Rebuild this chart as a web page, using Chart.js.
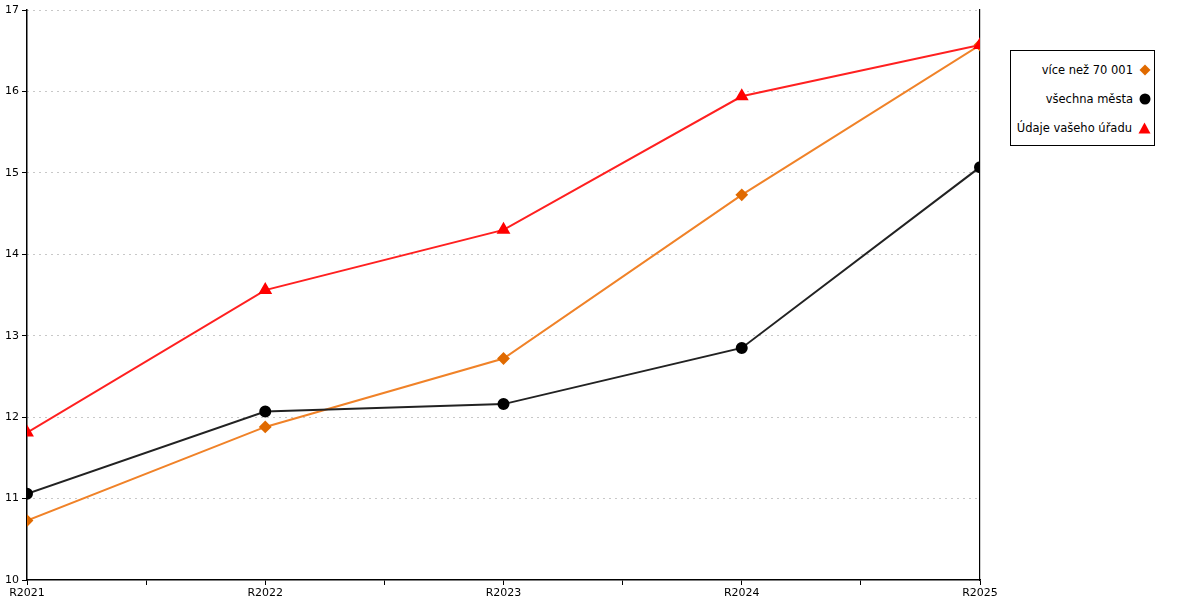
<!DOCTYPE html>
<html><head><meta charset="utf-8">
<script src="https://cdn.jsdelivr.net/npm/chart.js@4/dist/chart.umd.min.js"></script>
<style>
html,body{margin:0;padding:0;background:#fff;}
#wrap{position:relative;width:1200px;height:600px;}
#legend{position:absolute;left:1010px;top:50px;width:143px;height:94px;border:1px solid #000;background:#fff;font-family:"DejaVu Sans",sans-serif;font-size:11.5px;color:#000;}
.row{position:absolute;right:3px;display:flex;align-items:center;height:16px;}
.row span{margin-right:6px;}
</style></head>
<body><div id="wrap"><canvas id="c" width="1200" height="600"></canvas>
<div id="legend">
<div class="row" style="top:11px"><span>více než 70 001</span><svg width="12" height="12"><polygon points="6,0.5 11.5,6 6,11.5 0.5,6" fill="#E06A00"/></svg></div>
<div class="row" style="top:40px"><span>všechna města</span><svg width="12" height="12"><circle cx="6" cy="6" r="5.5" fill="#000"/></svg></div>
<div class="row" style="top:69px"><span>Údaje vašeho úřadu</span><svg width="13" height="12"><polygon points="6.5,0.5 12.5,11.5 0.5,11.5" fill="#FF0000"/></svg></div>
</div></div>
<script>
const categories = ["R2021","R2022","R2023","R2024","R2025"];
const seriesNames = ["více než 70 001","všechna města","Údaje vašeho úřadu"];
const over70001 = [10.73, 11.88, 12.72, 14.73, 16.57];
const allCities = [11.06, 12.07, 12.16, 12.85, 15.07];
const yourOffice = [11.81, 13.56, 14.30, 15.94, 16.57];
const yTicks = [10, 11, 12, 13, 14, 15, 16, 17];

const toPts = arr => arr.map((v, i) => ({x: i, y: v}));

new Chart(document.getElementById('c'), {
  type: 'line',
  data: {
    datasets: [
      {label: seriesNames[0], data: toPts(over70001), borderColor: '#F08228', backgroundColor: '#E06A00', pointBackgroundColor:'#E06A00', pointBorderColor:'#E06A00', borderWidth: 2, pointStyle: 'rectRot', pointRadius: 5, pointHoverRadius: 5, order: 3},
      {label: seriesNames[1], data: toPts(allCities), borderColor: '#222222', backgroundColor: '#000', pointBackgroundColor:'#000', pointBorderColor:'#000', borderWidth: 2, pointStyle: 'circle', pointRadius: 5, pointHoverRadius: 5, order: 2},
      {label: seriesNames[2], data: toPts(yourOffice), borderColor: '#FF2020', backgroundColor: '#FF0000', pointBackgroundColor:'#FF0000', pointBorderColor:'#FF0000', borderWidth: 2, pointStyle: 'triangle', pointRadius: 6, pointHoverRadius: 6, order: 1}
    ]
  },
  options: {
    responsive: false,
    animation: false,
    events: [],
    layout: {padding: {top: 10, right: 220, left: 0, bottom: 0}},
    plugins: {legend: {display: false}, tooltip: {enabled: false}},
    scales: {
      x: {
        type: 'linear', min: 0, max: categories.length - 1,
        afterBuildTicks: s => { const t = []; for (let v = 0; v <= categories.length - 1 + 1e-9; v += 0.5) t.push({value: v}); s.ticks = t; },
        ticks: {autoSkip: false, maxRotation: 0, color: '#000', font: {family: 'DejaVu Sans', size: 11}, padding: 2,
          callback: v => Number.isInteger(v) ? categories[v] : ''},
        grid: {display: true, drawOnChartArea: false, tickLength: 5, color: '#000', lineWidth: 1},
        border: {display: true, color: '#000', width: 1.5},
        afterFit: s => { s.height = 20; }
      },
      y: {
        weight: 1,
        min: yTicks[0], max: yTicks[yTicks.length - 1],
        afterBuildTicks: s => { s.ticks = yTicks.map(v => ({value: v})); },
        ticks: {color: '#000', font: {family: 'DejaVu Sans', size: 11}, padding: 3},
        grid: {color: c => c.tick.value === yTicks[0] ? 'rgba(0,0,0,0)' : '#C8C8C8', lineWidth: 1, tickColor: '#000', tickLength: 5, tickBorderDash: [0,0]},
        border: {display: false, dash: [2, 4]},
        afterFit: s => { s.width = 27; }
      },
      yL: {
        weight: 0, position: 'left', min: yTicks[0], max: yTicks[yTicks.length - 1],
        ticks: {display: false},
        grid: {display: false, drawOnChartArea: false, tickLength: 0},
        border: {display: true, color: '#000', width: 1.5},
        afterFit: s => { s.width = 0; }
      },
      y2: {
        position: 'right', min: yTicks[0], max: yTicks[yTicks.length - 1],
        ticks: {display: false},
        grid: {display: false, drawOnChartArea: false, tickLength: 0},
        border: {display: true, color: '#000', width: 1.2},
        afterFit: s => { s.width = 0; }
      }
    }
  }
});
</script></body></html>
